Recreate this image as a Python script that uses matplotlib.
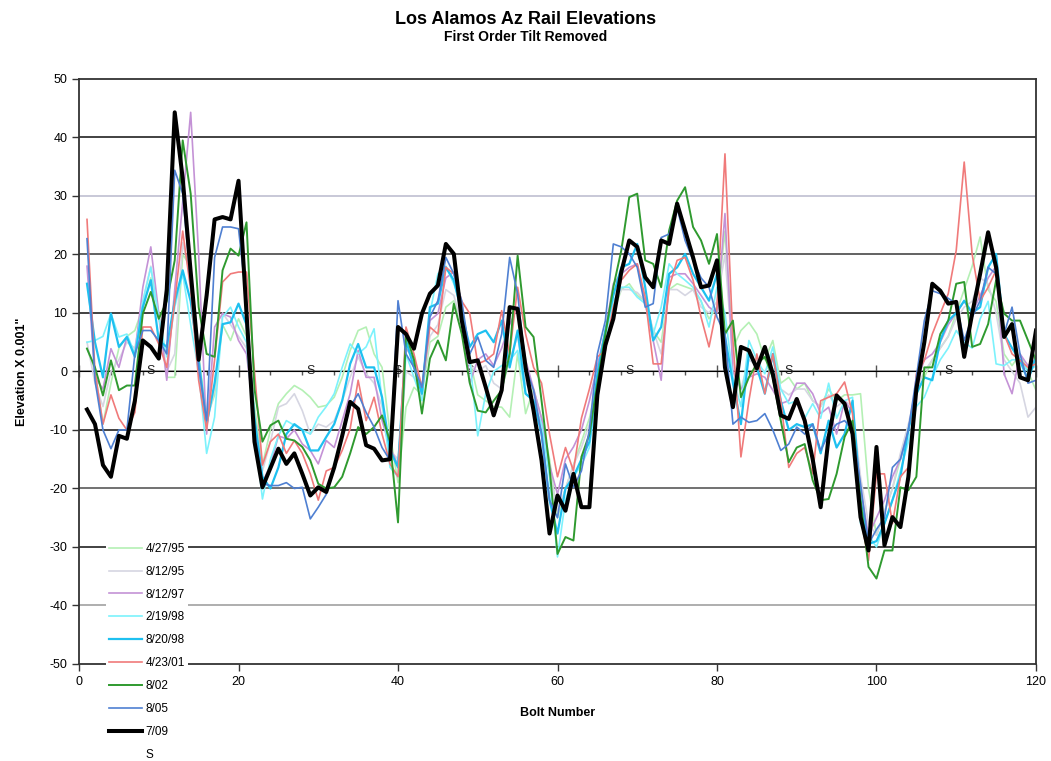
import matplotlib
matplotlib.use("Agg")
import matplotlib.pyplot as plt
import numpy as np

plt.rcParams['font.family'] = ['Liberation Sans', 'DejaVu Sans']
plt.rcParams['axes.unicode_minus'] = False

bolts = list(range(1, 121))

# survey dates (legend order)
labels = ['4/27/95', '8/12/95', '8/12/97', '2/19/98', '8/20/98', '4/23/01', '8/02', '8/05', '7/09']

lgreen_95 = [4, 0, -9, -2, 4, 6, 7, 11, 16, 10,
             -1, -1, 20, 18, 3, -8, -4, 8, 5.3, 9,
             6, -6, -16, -10, -5.5, -3.8, -2.4, -3.2, -4.4, -6.1,
             -5.8, -4.4, -1, 3.6, 7, 7.6, 3, 0.7, -10.7, -19,
             -6.1, -2.7, -4, 5, 6, 11, 12.1, 8, 2, -4,
             -5, -6, -6.1, -7.8, 3, -7.2, -3, -8, -15, -25,
             -20, -16, -12, -8, -2, 5, 10, 14, 15, 13,
             12, 7, 5, 14, 15, 14.5, 14, 12, 9, 11,
             24, 4, 7, 8.4, 6.4, 2, 5.3, -2, -1, -3,
             -2, -5, -6, -3, -5, -4, -4, -3.8, -20, -28,
             -24, -20, -15, -10, -4, -1, 2, 4, 6, 10,
             14, 18, 23, 14, 12, 3, 1, 3, 0, -3.2]

grey_95 = [5, -2, -6, 0, 2, 5, 4, 12, 18, 9,
           0, 3, 22, 16, 2, -9, -3, 10, 8, 6,
           4, -8, -17, -12, -6.1, -5.5, -3.8, -6.7, -10.7, -9,
           -9.5, -8.4, -5, -1, 2.5, -0.4, -2, -6, -13.5, -15,
           0, -1, -3, 6, 8, 14, 13, 8, 1, 0,
           1, -2, -3, 2, 6, -2, -4, -8, -17, -24,
           -20, -16, -13, -9, -2, 5, 11, 14, 14, 13.5,
           12, 7, 3, 14, 14, 13, 14, 11, 10, 12,
           20, 2, -3, 2, 1, 0, 2, -3, -4, -3,
           -3, -5, -6, -4, -6, -5, -6, -18, -26, -28,
           -24, -20, -14, -9, -3, 0, 2, 4, 6, 9,
           11, 12, 16, 15, 10, 2, 0, -2, -7.8, -6.1]

purple_97 = [18, -1, -3, 3.9, 0.7, 5.9, 3, 14.4, 21.3, 9.9,
             -1.5, 14, 29, 44.3, 20, -10.7, 7.6, 9.9, 9.3, 5.3,
             3, -8, -19, -16, -11, -11.5, -10, -12.4, -13.5, -15.8,
             -11.8, -13, -8.4, -3.8, 3.6, -1, -1, -8.4, -13, -16,
             4, 2, -4, 8.7, 9.9, 16, 17, 10, -2, 2,
             3, 1, 4, 8, 11, 2, -3, -8, -16, -21,
             -15, -12.9, -10, -5, 1, 7, 15, 16.7, 17.8, 18.4,
             11.6, 5.3, -1.5, 16.1, 16.7, 16.7, 15, 13, 11, 10,
             27, 0, -3, -1, -0.4, -1, -3.2, -5.5, -5, -2,
             -2, -3.8, -7.2, -6.1, -10.7, -5, -7, -20, -28, -25,
             -22, -18, -15, -10, -2, 2, 3, 5, 8, 10,
             12, 10, 13, 16, 18, -0.4, -3.8, 3, 1, 2]

lcyan_98 = [5, 5.3, 6, 9.9, 5.9, 6.4, 3, 12, 17.8, 9.3,
            2.5, 11, 16.7, 8, 0, -14, -7.8, 9.3, 11, 7.6,
            5, -10, -21.8, -15, -11, -8.4, -9.2, -10, -10.7, -7.8,
            -6, -3.8, 0.7, 4.7, 3, 4.2, 7.3, -5, -16.4, -18,
            3, -1, -5, 10, 16.7, 18, 15, 11, 2, -11,
            -3.8, 0, 1, 1.9, 3.6, -3.8, -5, -9, -18, -31.7,
            -22, -18, -16, -13, -3, 6, 12, 14.4, 14.4, 12.7,
            11.6, 6.4, 11, 18.4, 16.7, 15.6, 14.4, 12.1, 7.6, 14.4,
            10, -1, -6, 5.3, 2, -0.4, 4.2, -3, -5.5, -5,
            -8, -5.5, -8, -2, -8, -5, -4.4, -26, -28, -30,
            -26, -22, -17, -12, -6, -4.4, -1, 2, 4, 7,
            5, 4, 9, 12, 1.3, 1, 2, 2, 0, 1]

cyan_98 = [15, 5, -1, 9.9, 4.2, 5.9, 2.5, 11, 15.6, 5.3,
           4.2, 12, 17.3, 12, 2, -9, -2, 8.1, 8.4, 11.6,
           8, -8, -18, -20, -16.4, -10.7, -9, -10, -13.5, -13.5,
           -11.2, -9, -5, 1.3, 4.7, 0.7, 0.7, -4.4, -13.5, -16.4,
           5.3, 0.7, -3.8, 11, 11.6, 17.8, 15.6, 10, 4.2, 6.4,
           7, 5, 8.7, 0.7, 7, -3.8, -5, -10.7, -22, -27.7,
           -20, -18, -15, -12, -0.4, 7, 13, 17.8, 18.4, 21.8,
           14.4, 5.3, 7.6, 16.7, 17.8, 20.1, 16.7, 14.4, 12.1, 16.7,
           6, -2, -9, 3, 0.7, -3.8, 3, -5, -10, -9,
           -9.5, -9, -14, -8.4, -13, -10.7, -5, -22, -29.5, -29,
           -26, -22, -18, -10, -3.8, -1, -1.5, 5.3, 8.7, 10,
           12.1, 10, 11, 17.8, 20.1, 6.4, 4, 1.9, -1.5, 2.5]

red_01 = [26, 0, -9, -4, -8, -10, -7, 7.6, 7.6, 4.7,
          0.7, 12, 24, 14, -1.5, -10, 2, 15.3, 16.7, 17,
          17, 0, -16, -12, -10.7, -14, -11.8, -14, -17.5, -22,
          -17, -16.4, -13.5, -9.8, -1.5, -8.4, -4.4, -10.7, -15.8, -18,
          7.6, 3, -2.7, 7.6, 6.4, 17.8, 16.7, 12, 9.9, 1.3,
          1.9, 3, 10.4, 3, 14.4, 6.4, 0.7, -2, -10.7, -18,
          -13, -17, -8, -3, 2.5, 3.6, 11, 15.6, 17.3, 18.4,
          12.7, 1.3, 1.3, 14.4, 19, 19.5, 15.6, 9.3, 4.2, 11,
          37.2, 5.3, -14.6, -5, 3, -3.8, 3, -5, -16.4, -14,
          -13, -17.5, -5, -4.4, -3.8, -1.8, -7.2, -24.9, -32.3, -17.5,
          -17.5, -26, -18, -16.4, -0.4, 1.9, 6.4, 9.9, 13.3, 20.7,
          35.8, 20, 12.1, 14.4, 17.3, 6.4, 3, 1.9, 0.7, 1.3]

green_02 = [3.9, 0.7, -4.1, 1.9, -3.2, -2.4, -2.4, 9.9, 13.6, 9,
            12, 19, 39.5, 30.4, 11, 3, 2.5, 17.3, 21, 19.8,
            25.5, -3, -12, -9.2, -8.4, -11.5, -11.8, -12.9, -15.2, -19.2,
            -20, -19.8, -18, -14, -9.5, -10.7, -9.5, -7.5, -12, -25.8,
            6.4, 2, -7.2, 2.2, 5.3, 1.9, 11.6, 6.4, -2, -6.7,
            -7, -5, -3.2, 3, 19.8, 7.6, 5.9, -5, -16.4, -31.2,
            -28.3, -28.9, -14.6, -10.7, -2, 6.4, 14.4, 20.7, 29.8, 30.4,
            19, 18.4, 14.4, 24.1, 29.2, 31.5, 24.7, 22.4, 18.4, 23.5,
            6.4, 8.7, -4.4, -1, 1.3, 2.5, -1, -8.4, -15.5, -13,
            -12.4, -18.6, -22, -21.8, -17.5, -11.2, -8.4, -22, -33.4, -35.4,
            -30.6, -30.6, -19.8, -20.3, -18, 0.7, 0.7, 6.4, 8.7, 15,
            15.3, 4.2, 4.7, 8.1, 15.6, 9.9, 8.7, 8.7, 5.3, 1.9]

blue_05 = [22.7, -1.5, -10, -13.2, -10, -10, 3, 7, 7, 5.3,
           3, 34.4, 30.4, 15, 0.7, -8.4, 19.5, 24.7, 24.7, 24.4,
           12, -10, -19.2, -19.5, -19.5, -19, -20, -19.8, -25.2, -23.2,
           -21, -16.4, -10.7, -6, -3.8, -7, -9.5, -13, -15.2, 12.1,
           3, 0.7, -2.7, 9.3, 12.1, 19.5, 16.7, 12, 3, 5.9,
           1.9, 0.7, 6.4, 19.5, 13.3, 0.7, -3.2, -10.7, -22, -25,
           -15.8, -19.8, -17, -10, 3, 8.7, 21.8, 21.3, 20.1, 17.8,
           11, 11.6, 22.9, 23.5, 28, 22.4, 19, 16, 14.4, 9.3,
           6.4, -9, -7.8, -8.7, -8.4, -7.2, -10, -13.5, -12.4, -9.5,
           -10.7, -9, -13.5, -10.7, -9, -8.4, -10, -19.2, -29.5, -27,
           -25, -16.4, -15, -10, -1, 8.7, 13.8, 13.3, 12.5, 11.6,
           5.3, 9.3, 12.1, 17.8, 16.7, 6.4, 11, 3, -2, -1.5]

black_09 = [-6.5, -9, -16, -18, -11, -11.5, -5, 5.3, 4.2, 2.2,
            14, 44.3, 33, 17, 2, 13, 26, 26.4, 26, 32.6,
            10, -12, -19.8, -16.5, -13.2, -15.8, -14, -17.5, -21.2, -19.8,
            -20.6, -16.4, -11, -5.2, -6.4, -12.6, -13.2, -15.2, -15, 7.6,
            6.4, 3.9, 9.9, 13.3, 14.7, 21.8, 20.1, 8.7, 1.6, 1.9,
            -2.7, -7.5, -3.2, 11, 10.7, 0.7, -6.7, -15.2, -27.7, -21.2,
            -23.8, -17.5, -23.2, -23.2, -4, 4.5, 9, 17, 22.4, 21.3,
            16.1, 14.4, 22.4, 21.8, 28.7, 24.1, 19.5, 14.4, 14.7, 19,
            0.7, -6.1, 4.2, 3.6, 0.5, 4.2, -0.4, -7.5, -8.1, -4.7,
            -8.4, -15, -23.2, -11.2, -4.1, -5.5, -10.7, -24.9, -30.6, -12.9,
            -29.7, -24.9, -26.6, -18, -3, 5, 15, 13.8, 11.6, 11.9,
            2.5, 9.9, 16.7, 23.8, 17.8, 5.9, 8.1, -1, -1.5, 7]

series = [lgreen_95, grey_95, purple_97, lcyan_98, cyan_98, red_01, green_02, blue_05, black_09]
colors = ['#b4f0b4', '#d6d6e2', '#c492d6', '#7cf2fc', '#1ec0f0', '#f07a7a', '#2f9a2f', '#4f80d2', '#000000']
widths = [1.2, 1.2, 1.2, 1.2, 1.6, 1.2, 1.4, 1.2, 2.9]

# "S" markers along the zero line
s_bolts = [9, 29, 40, 49, 69, 89, 109]

fig = plt.figure(figsize=(10.51, 7.61), dpi=100)
ax = fig.add_axes([0.0752, 0.1275, 0.9105, 0.7687])

grid_y = [40, 30, 20, 10, 0, -10, -20, -30, -40]
grid_c = ['#333333', '#c4c4d4', '#555555', '#333333', '#999999', '#333333', '#666666', '#333333', '#a8a8a8']
for gy, gc in zip(grid_y, grid_c):
    ax.axhline(gy, color=gc, lw=1.3, zorder=0)

handles = []
for y, c, w, lab in zip(series, colors, widths, labels):
    h, = ax.plot(bolts, y, color=c, lw=w, label=lab, zorder=2)
    handles.append(h)

for sb in s_bolts:
    ax.text(sb, 0, 'S', ha='center', va='center', fontsize=9, color='#222222', zorder=1)
hs, = ax.plot([], [], ls='none', label='S')
handles.append(hs)

ax.set_xlim(0, 120)
ax.set_ylim(-50, 50)
ax.set_xticks(range(0, 121, 20))
ax.set_yticks(range(-50, 51, 10))
ax.tick_params(axis='both', labelsize=9, length=5, width=1, color='#333333')
for sp in ax.spines.values():
    sp.set_color('#333333')
    sp.set_linewidth(1.3)

# axis with ticks across the zero line
zax = ax.secondary_xaxis(0.5)
zax.set_xticks(range(0, 121, 20))
zax.set_xticks(range(0, 121, 4), minor=True)
zax.set_xticklabels([])
zax.tick_params(axis='x', which='major', direction='inout', length=8, width=1, color='#555555')
zax.tick_params(axis='x', which='minor', direction='in', length=3, width=1, color='#555555')
zax.spines['bottom'].set_color('#999999')
zax.spines['bottom'].set_linewidth(1.3)

ax.set_xlabel('Bolt Number', fontsize=9, fontweight='bold', labelpad=14)
ax.set_ylabel('Elevation X 0.001"', fontsize=9, fontweight='bold', labelpad=15)

fig.text(0.5, 0.975, 'Los Alamos Az Rail Elevations', ha='center', va='center', fontsize=13, fontweight='bold')
fig.text(0.5, 0.951, 'First Order Tilt Removed', ha='center', va='center', fontsize=10, fontweight='bold')

leg = fig.legend(handles=handles, loc='upper left', bbox_to_anchor=(0.095, 0.299),
                 fontsize=8.5, frameon=True, framealpha=1, edgecolor='none', facecolor='white',
                 handlelength=2.8, handletextpad=0.25, labelspacing=0.92, borderpad=0.3)

fig.savefig('out.png', dpi=100)
